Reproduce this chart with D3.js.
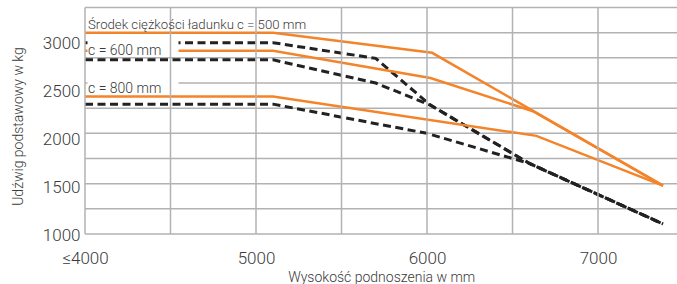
<!DOCTYPE html>
<html>
<head>
<meta charset="utf-8">
<script src="https://cdn.jsdelivr.net/npm/d3@7"></script>
<style>
    body { margin: 0; background: #fff; }
    #chart text { font-family: Roboto, "Noto Sans", sans-serif; fill: #3a3a3a; font-weight: 300; }
</style>
</head>
<body>
<div id="chart"></div>
<script>
// lift height (mm) vs. capacity (kg)
const orange500 = [[4000, 3000], [5100, 3000], [6030, 2800], [7380, 1480]];
const orange600 = [[4000, 2820], [5100, 2820], [6020, 2550], [6620, 2220], [7380, 1480]];
const orange800 = [[4000, 2365], [5100, 2365], [6640, 1975], [7380, 1480]];
const dashed500 = [[4000, 2900], [5100, 2900], [5700, 2745], [6020, 2280], [6600, 1700], [7380, 1100]];
const dashed600 = [[4000, 2730], [5100, 2730], [5700, 2500], [6020, 2280], [6600, 1700], [7380, 1100]];
const dashed800 = [[4000, 2290], [5100, 2290], [6000, 2000], [6600, 1700], [7380, 1100]];

const xTicks = [4000, 5000, 6000, 7000];
const xTickLabels = ["≤4000", "5000", "6000", "7000"];
const yTicks = [1000, 1500, 2000, 2500, 3000];
const xGrid = [4000, 4500, 5000, 5500, 6000, 6500, 7000];
const yGrid = [1000, 1250, 1500, 1750, 2000, 2250, 2500, 2750, 3000, 3250];

const labelTop = "Środek ciężkości ładunku c = 500 mm";
const label600 = "c = 600 mm";
const label800 = "c = 800 mm";
const xTitle = "Wysokość podnoszenia w mm";
const yTitle = "Udźwig podstawowy w kg";

const width = 677;
const height = 284;
const orange = "#f4842a";
const gridColor = "#b2b2b2";

const svg = d3.select("#chart")
    .append("svg")
    .attr("width", width)
    .attr("height", height);

const x = d3.scaleLinear().domain([4000, 7462]).range([85, 677]);
const y = d3.scaleLinear().domain([1000, 3250]).range([234, 7.5]);
// the tick labels in the original sit a bit off the grid lines
const yLab = d3.scaleLinear().domain([1000, 3000]).range([235.5, 42.8]);

// horizontal grid
svg.append("g")
    .selectAll("line")
    .data(yGrid)
    .enter()
    .append("line")
    .attr("x1", x(4000))
    .attr("x2", width)
    .attr("y1", d => y(d))
    .attr("y2", d => y(d))
    .attr("stroke", gridColor)
    .attr("stroke-width", 1.5);

const line = d3.line().x(d => x(d[0])).y(d => y(d[1]));

// dashed series first, orange on top
[dashed800, dashed600, dashed500].forEach(s => {
    svg.append("path")
        .datum(s)
        .attr("d", line)
        .attr("fill", "none")
        .attr("stroke", "#222")
        .attr("stroke-width", 3)
        .attr("stroke-dasharray", "8,4.5");
});

[orange800, orange600, orange500].forEach(s => {
    svg.append("path")
        .datum(s)
        .attr("d", line)
        .attr("fill", "none")
        .attr("stroke", orange)
        .attr("stroke-width", 2.5);
});

// white boxes behind the c = ... labels
svg.append("rect").attr("x", 87.5).attr("y", 35.5).attr("width", 91).attr("height", 21.5).attr("fill", "#fff");
svg.append("rect").attr("x", 87.5).attr("y", 73).attr("width", 91).attr("height", 21).attr("fill", "#fff");

// vertical grid (drawn over the boxes like in the original)
svg.append("g")
    .selectAll("line")
    .data(xGrid)
    .enter()
    .append("line")
    .attr("x1", d => x(d))
    .attr("x2", d => x(d))
    .attr("y1", y(3250))
    .attr("y2", y(1000))
    .attr("stroke", gridColor)
    .attr("stroke-width", 1.5);

svg.append("text").attr("x", 88).attr("y", 29.3).style("font-size", "13.2px").text(labelTop);
svg.append("text").attr("x", 88).attr("y", 55).style("font-size", "14px").text(label600);
svg.append("text").attr("x", 88).attr("y", 92.7).style("font-size", "14px").text(label800);

// axes
const xAxis = svg.append("g")
    .attr("transform", `translate(0,${y(1000)})`)
    .call(d3.axisBottom(x).tickValues(xTicks).tickFormat((d, i) => xTickLabels[i]).tickSize(0).tickPadding(17.5));
xAxis.select(".domain").remove();
xAxis.selectAll("text").style("font-size", "17px").attr("font-family", null);

const yAxis = svg.append("g")
    .attr("transform", "translate(80.5,0)")
    .call(d3.axisLeft(yLab).tickValues(yTicks).tickFormat(d3.format("d")).tickSize(0).tickPadding(0));
yAxis.select(".domain").remove();
yAxis.selectAll("text").style("font-size", "17px").attr("font-family", null);

svg.append("text")
    .attr("x", 381.7)
    .attr("y", 282)
    .attr("text-anchor", "middle")
    .style("font-size", "14px")
    .text(xTitle);

svg.append("text")
    .attr("transform", "translate(23,126.5) rotate(-90)")
    .attr("text-anchor", "middle")
    .style("font-size", "14px")
    .text(yTitle);
</script>
</body>
</html>
